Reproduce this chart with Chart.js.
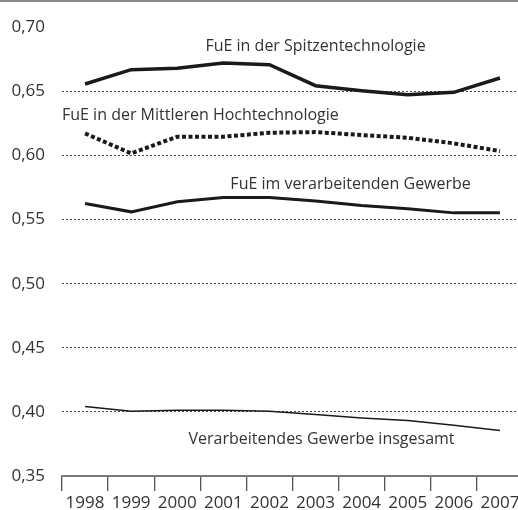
<!DOCTYPE html>
<html>
<head>
<meta charset="utf-8">
<script src="https://cdn.jsdelivr.net/npm/chart.js@4/dist/chart.umd.min.js"></script>
<style>
html,body{margin:0;padding:0;overflow:hidden;background:#fff;width:518px;height:510px;}
#wrap{position:absolute;left:0;top:0;width:523px;height:510px;}
</style>
</head>
<body>
<div id="wrap"><canvas id="c" width="523" height="510"></canvas></div>
<script>
const years = ['1998','1999','2000','2001','2002','2003','2004','2005','2006','2007'];
const spitzen   = [0.6557,0.6669,0.6680,0.6720,0.6708,0.6544,0.6505,0.6474,0.6492,0.6604];
const mittlere  = [0.6172,0.6016,0.6146,0.6146,0.6177,0.6182,0.6159,0.6138,0.6094,0.6034];
const fueVerarb = [0.5625,0.5560,0.5638,0.5672,0.5672,0.5644,0.5609,0.5584,0.5552,0.5552];
const insgesamt = [0.4042,0.4005,0.4013,0.4013,0.4005,0.3980,0.3953,0.3933,0.3896,0.3855];
const seriesNames = ['FuE in der Spitzentechnologie','FuE in der Mittleren Hochtechnologie','FuE im verarbeitenden Gewerbe','Verarbeitendes Gewerbe insgesamt'];
const yTicks = [0.35,0.40,0.45,0.50,0.55,0.60,0.65,0.70];

// label anchors in data space: [category index, value, alignment]
const labelAnchors = [
  [5.0, 0.6814, 'center'],
  [-0.5, 0.6278, 'left'],
  [5.76, 0.5737, 'center'],
  [5.13, 0.375, 'center']
];

const FONT = '"Open Sans", "Noto Sans", sans-serif';
const TXT = '#333333';

const labelsPlugin = {
  id: 'seriesLabels',
  afterDatasetsDraw(chart) {
    const ctx = chart.ctx;
    const xs = chart.scales.x, ys = chart.scales.y;
    ctx.save();
    ctx.font = '16px ' + FONT;
    ctx.fillStyle = TXT;
    ctx.textBaseline = 'alphabetic';
    labelAnchors.forEach((a, i) => {
      const x0 = xs.getPixelForValue(Math.floor(a[0]));
      const x1 = xs.getPixelForValue(Math.floor(a[0]) + 1);
      const px = x0 + (x1 - x0) * (a[0] - Math.floor(a[0]));
      ctx.textAlign = a[2];
      ctx.fillText(seriesNames[i], px, ys.getPixelForValue(a[1]));
    });
    ctx.restore();
  },
  beforeDraw(chart) {
    const ctx = chart.ctx;
    ctx.save();
    ctx.fillStyle = '#8a8a8a';
    ctx.fillRect(0, 0, chart.width, 2);
    ctx.restore();
  }
};

const lineCol = '#1a1a1a';
new Chart(document.getElementById('c'), {
  type: 'line',
  data: {
    labels: years,
    datasets: [
      {label: seriesNames[0], data: spitzen, borderColor: lineCol, borderWidth: 3.5, pointRadius: 0, tension: 0},
      {label: seriesNames[1], data: mittlere, borderColor: lineCol, borderWidth: 4, borderDash: [4, 2.5], borderCapStyle: 'butt', pointRadius: 0, tension: 0},
      {label: seriesNames[2], data: fueVerarb, borderColor: lineCol, borderWidth: 3, pointRadius: 0, tension: 0},
      {label: seriesNames[3], data: insgesamt, borderColor: lineCol, borderWidth: 1.5, pointRadius: 0, tension: 0}
    ]
  },
  options: {
    responsive: false,
    animation: false,
    devicePixelRatio: 1,
    layout: {padding: {top: 23, left: 0, right: 0, bottom: 0}},
    plugins: {legend: {display: false}, tooltip: {enabled: false}},
    scales: {
      x: {
        offset: true,
        grid: {offset: true, drawOnChartArea: false, drawTicks: true, tickLength: 15, color: '#555', lineWidth: 1.3},
        border: {display: true, color: '#7a7a7a', width: 2},
        ticks: {font: {family: FONT, size: 17}, color: TXT, padding: 2, maxRotation: 0, autoSkip: false},
        afterFit(s) { s.height = 34; }
      },
      y: {
        min: 0.35, max: 0.70,
        afterBuildTicks(s) { s.ticks = yTicks.map(v => ({value: v})); },
        grid: {
          drawTicks: false,
          color: c => (c.tick && (Math.abs(c.tick.value - 0.70) < 1e-6 || Math.abs(c.tick.value - 0.35) < 1e-6)) ? 'rgba(0,0,0,0)' : '#444',
          lineWidth: 1
        },
        border: {display: false, dash: [2, 2]},
        ticks: {
          font: {family: FONT, size: 17}, color: TXT, padding: 17,
          callback: v => Number(v).toFixed(2).replace('.', ',')
        },
        afterFit(s) { s.width = 62; }
      }
    }
  },
  plugins: [labelsPlugin]
});
</script>
</body>
</html>
